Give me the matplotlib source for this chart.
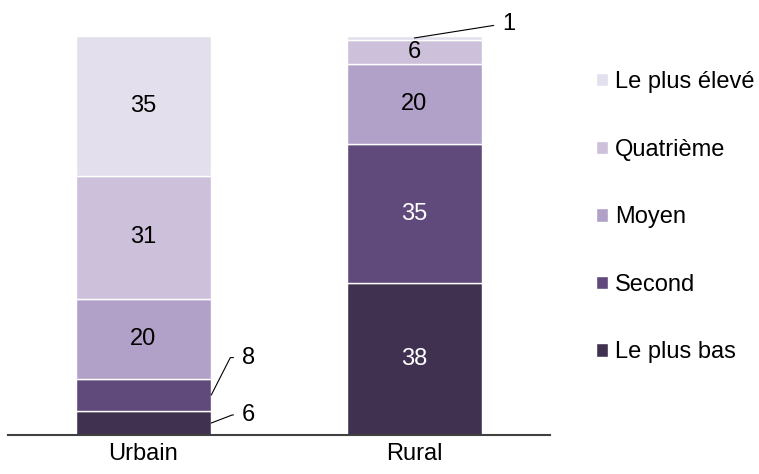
import numpy as np
import matplotlib.pyplot as plt

plt.rcParams['font.family'] = ['Liberation Sans', 'DejaVu Sans']

groups = ["Urbain", "Rural"]
quintiles = ["Le plus bas", "Second", "Moyen", "Quatrième", "Le plus élevé"]
values = {
    "Le plus bas": [6, 38],
    "Second": [8, 35],
    "Moyen": [20, 20],
    "Quatrième": [31, 6],
    "Le plus élevé": [35, 1],
}
colors = ["#403151", "#604A7B", "#B1A0C7", "#CCC0DA", "#E4DFEC"]
text_colors = ["white", "white", "black", "black", "black"]

# labels drawn outside the bar: (group index, quintile) -> offset of text in points, leader angle
outside = {
    (0, "Second"): ((22, 27), 63),
    (0, "Le plus bas"): ((22, 5.8), 21),
    (1, "Le plus élevé"): ((63, 10), 9),
}

fig = plt.figure(figsize=(7.59, 4.74), dpi=100)
ax = fig.add_axes([0.0105, 0.0823, 0.7141, 0.8418])

x = np.arange(len(groups))
width = 0.5
bottom = np.zeros(len(groups))
for q, c, tc in zip(quintiles, colors, text_colors):
    vals = np.array(values[q], dtype=float)
    ax.bar(x, vals, width, bottom=bottom, color=c, edgecolor="white", linewidth=1, label=q)
    for i, v in enumerate(vals):
        mid = bottom[i] + v / 2
        if (i, q) in outside:
            off, ang = outside[(i, q)]
            px = x[i] + width / 2 if q != "Le plus élevé" else x[i]
            ax.annotate(str(int(v)), xy=(px, mid), xytext=off, textcoords="offset points",
                        fontsize=17, ha="left", va="center", annotation_clip=False,
                        arrowprops=dict(arrowstyle="-", color="black", lw=0.8,
                                        shrinkA=4, shrinkB=0, relpos=(0, 0.5),
                                        connectionstyle="angle,angleA=0,angleB=%d,rad=0" % ang))
        else:
            ax.text(x[i], mid, str(int(v)), ha="center", va="center", fontsize=17, color=tc)
    bottom += vals

ax.set_xlim(-0.5, 1.5)
ax.set_ylim(0, 100)
ax.set_xticks(x)
ax.set_xticklabels(groups, fontsize=17)
ax.tick_params(axis="x", length=0, pad=6)
ax.set_yticks([])
for s in ["top", "right", "left"]:
    ax.spines[s].set_visible(False)
ax.spines["bottom"].set_color("#404040")
ax.spines["bottom"].set_linewidth(1.5)

handles, labels = ax.get_legend_handles_labels()
fig.legend(handles[::-1], labels[::-1], loc="upper left", bbox_to_anchor=(0.785, 0.85),
           frameon=False, fontsize=17, handlelength=0.5, handleheight=0.5,
           handletextpad=0.3, labelspacing=1.93, borderpad=0, borderaxespad=0)

fig.savefig("out.png", dpi=100)
